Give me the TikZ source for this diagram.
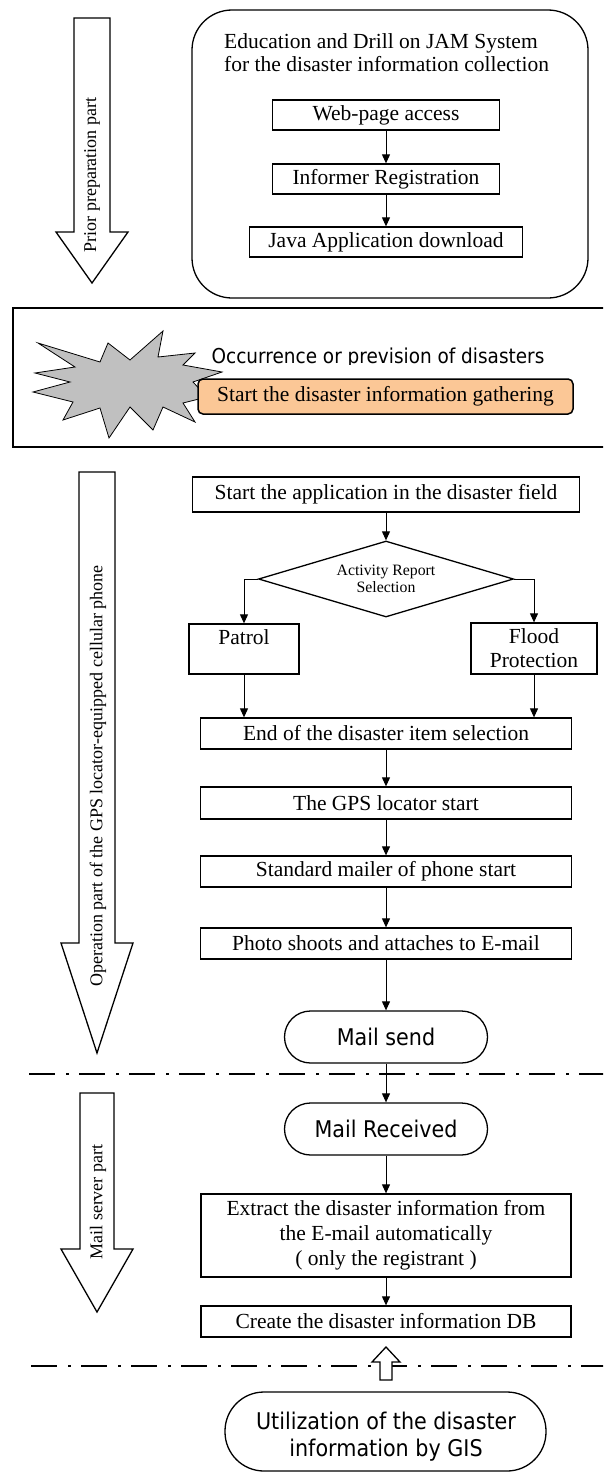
\documentclass[tikz,border=0pt]{standalone}
\usepackage{fontspec}
\setmainfont{Liberation Serif}
\newfontfamily\sansf{DejaVu Sans}[FakeStretch=0.9]
\usetikzlibrary{arrows.meta,shapes.geometric}
\definecolor{orangefill}{HTML}{FBC796}
\definecolor{stargray}{HTML}{C0C0C0}
\tikzset{
 box/.style={draw, line width=1.3pt, inner sep=0pt, align=center, font=\fontsize{21.5}{24}\selectfont},
 term/.style={draw, line width=1.3pt, inner sep=0pt, align=center, rounded corners=26pt, font=\sansf\fontsize{23}{27}\selectfont},
 flow/.style={line width=1pt, -{Triangle[length=9pt,width=8pt]}},
 blockarrow/.style={draw, line width=1.3pt, fill=white},
 sidelabel/.style={rotate=90, font=\fontsize{18}{20}\selectfont, inner sep=0pt},
 dashdot/.style={line width=2.7pt, dash pattern=on 26pt off 11pt on 3pt off 10pt},
}
\begin{document}
\begin{tikzpicture}[x=1pt,y=-1pt]
\useasboundingbox (0,0) rectangle (603,1472);
\clip (0,0) rectangle (603,1472);

% ---------- prior preparation part ----------
\draw[blockarrow] (74,18) -- (110,18) -- (110,232) -- (128,232) -- (92,283) -- (56,232) -- (74,232) -- cycle;
\node[sidelabel] (lprior) at (92,175) {Prior preparation part};

\node[draw, line width=1.3pt, rounded corners=40pt, minimum width=396pt, minimum height=288pt] (edu) at (390,154) {};
\node[anchor=north west, align=left, inner sep=0pt, font=\fontsize{21.5}{23}\selectfont] (title) at (224,33.5)
  {Education and Drill on JAM System\\for the disaster information collection};
\node[box, minimum width=227pt, minimum height=30pt] (web) at (386,115) {Web-page access};
\node[box, minimum width=227pt, minimum height=30pt] (inf) at (386,179) {Informer Registration};
\node[box, minimum width=273pt, minimum height=30pt] (java) at (386,242) {Java Application download};
\draw[flow] (web) -- (inf);
\draw[flow] (inf) -- (java);

% ---------- occurrence part ----------
\draw[line width=1.3pt] (13,308) rectangle (620,447);
\draw[fill=stargray, line width=0.8pt]
  (38,343) -- (100,362) -- (108,343) -- (130,360) -- (163,331) -- (158,357) -- (195,353) -- (183,365)
  -- (222,372) -- (193,382) -- (207,397) -- (183,403) -- (195,422) -- (163,407) -- (153,430) -- (130,407)
  -- (109,438) -- (100,408) -- (63,420) -- (73,402) -- (33,392) -- (70,382) -- (35,373) -- (75,367) -- cycle;
\begin{scope}
\clip (150,320) rectangle (603,364.5);
\node[anchor=base, inner sep=0pt, font=\sansf\fontsize{20.5}{24}\selectfont] (occ) at (378,363) {Occurrence or prevision of disasters};
\end{scope}
\node[box, fill=orangefill, rounded corners=5pt, line width=1.5pt, minimum width=375pt, minimum height=35pt] (gather) at (385.5,396.5) {Start the disaster information gathering};

% ---------- operation part ----------
\draw[blockarrow] (79,472) -- (115,472) -- (115,943) -- (133,943) -- (97,1053) -- (61,943) -- (79,943) -- cycle;
\node[sidelabel] (lop) at (98,776) {Operation part of the GPS locator-equipped cellular phone};

\node[box, minimum width=387pt, minimum height=35pt] (start) at (386,494.5) {Start the application in the disaster field};
\node[draw, shape=diamond, shape aspect=3.36, line width=1.3pt, inner sep=0pt, minimum width=255pt, minimum height=76pt,
  align=center, font=\fontsize{15.8}{17}\selectfont] (dia) at (386,579) {Activity Report\\Selection};
\node[box, minimum width=110pt, minimum height=50pt] (patrol) at (244,649) {Patrol\\\mbox{}};
\node[box, minimum width=126pt, minimum height=51pt] (flood) at (534,648.5) {Flood\\Protection};
\node[box, minimum width=371pt, minimum height=31pt] (endsel) at (386,733.5) {End of the disaster item selection};
\node[box, minimum width=371pt, minimum height=32pt] (gps) at (386,803) {The GPS locator start};
\node[box, minimum width=371pt, minimum height=31pt] (mailer) at (386,871.5) {Standard mailer of phone start};
\node[box, minimum width=371pt, minimum height=31pt] (photo) at (386,943.5) {Photo shoots and attaches to E-mail};
\node[term, minimum width=203pt, minimum height=52pt] (send) at (386,1037) {Mail send};

\draw[flow] (start) -- (dia);
\draw[flow] (dia.west) -| (patrol.north);
\draw[flow] (dia.east) -| (flood.north);
\draw[flow] (patrol.south) -- (patrol.south |- endsel.north);
\draw[flow] (flood.south) -- (flood.south |- endsel.north);
\draw[flow] (endsel) -- (gps);
\draw[flow] (gps) -- (mailer);
\draw[flow] (mailer) -- (photo);
\draw[flow] (photo) -- (send);

% ---------- mail server part ----------
\draw[dashdot] (29,1074) -- (640,1074);
\draw[blockarrow] (80,1093) -- (114,1093) -- (114,1249) -- (133,1249) -- (97,1312) -- (61,1249) -- (80,1249) -- cycle;
\node[sidelabel] (lsrv) at (98,1202) {Mail server part};

\node[term, minimum width=203pt, minimum height=52pt] (recv) at (386,1129) {Mail Received};
\node[box, minimum width=370pt, minimum height=83pt, font=\fontsize{21.5}{25}\selectfont] (extract) at (386,1235.5)
  {Extract the disaster information from\\the E-mail automatically\\( only the registrant )};
\node[box, minimum width=370pt, minimum height=31pt] (db) at (386,1321.5) {Create the disaster information DB};
\draw[flow] (send) -- (recv);
\draw[flow] (recv) -- (extract);
\draw[flow] (extract) -- (db);

% ---------- GIS part ----------
\draw[dashdot] (31,1366) -- (640,1366);
\draw[blockarrow] (380,1380) -- (380,1362) -- (372,1362) -- (386,1347) -- (400,1362) -- (392,1362) -- (392,1380) -- cycle;
\node[draw, line width=1.3pt, rounded corners=39pt, minimum width=321pt, minimum height=79pt] (gis) at (385.5,1431.5) {};
\begin{scope}
\clip (200,1395) rectangle (560,1461);
\node[align=center, inner sep=0pt, font=\sansf\fontsize{23}{27}\selectfont] (gistext) at (386,1436.5)
  {Utilization of the disaster\\information by GIS};
\end{scope}
\end{tikzpicture}
\end{document}
